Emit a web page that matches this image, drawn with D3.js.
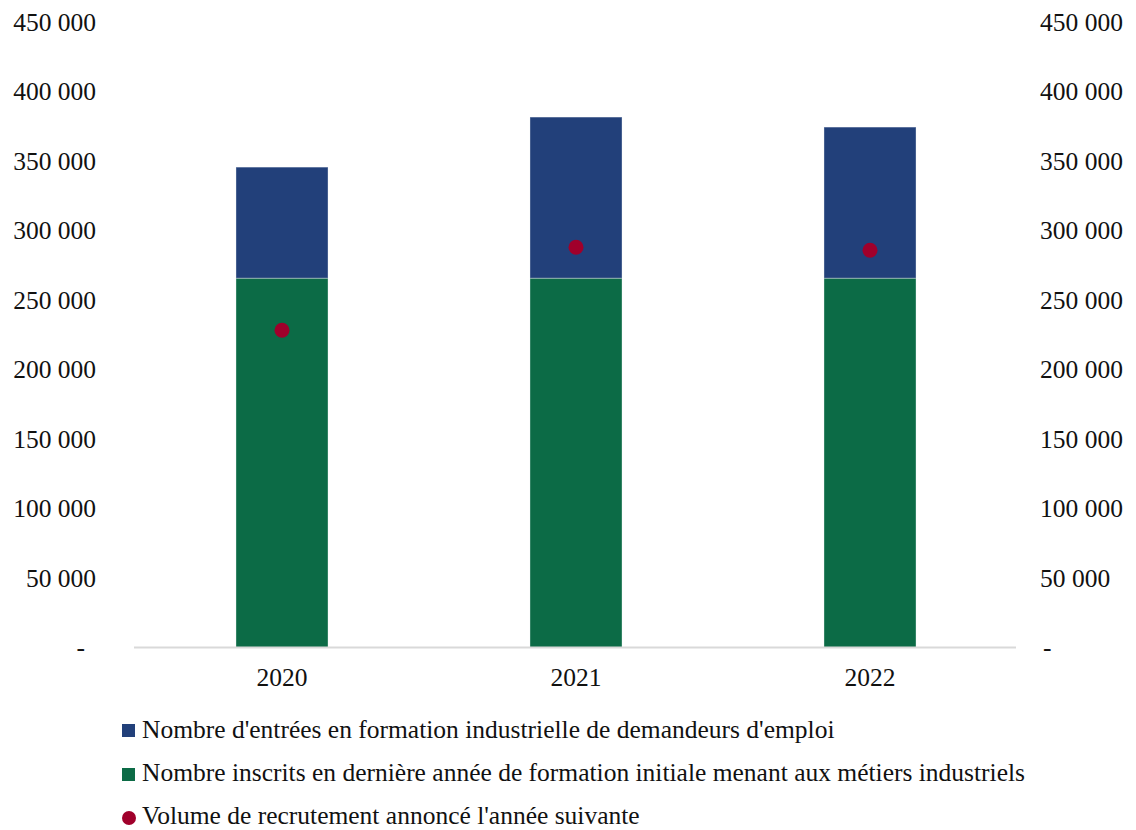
<!DOCTYPE html>
<html><head><meta charset="utf-8">
<script src="https://cdn.jsdelivr.net/npm/d3@7"></script>
<style>body{margin:0;background:#fff}svg{display:block}text{font-family:"Liberation Serif",serif;fill:#111}</style>
</head><body>
<svg id="c" width="1136" height="830"></svg>
<script>
const years = ["2020","2021","2022"];
const inscrits = [265700, 265700, 265700];
const entrees = [79900, 115900, 108700];
const recrutement = [228200, 288000, 285800];
const yTicks = [0,50000,100000,150000,200000,250000,300000,350000,400000,450000];
const legendLabels = [
  "Nombre d'entrées en formation industrielle de demandeurs d'emploi",
  "Nombre inscrits en dernière année de formation initiale menant aux métiers industriels",
  "Volume de recrutement annoncé l'année suivante"
];
const colors = {entrees:"#22407a", inscrits:"#0c6b46", recrut:"#a0002b"};
const FS = "25.5px";

const svg = d3.select("#c");
const x = d3.scaleBand().domain(years).range([135,1017]).paddingInner(0.687).paddingOuter(0.3435);
const y = d3.scaleLinear().domain([0,450000]).range([647.5,22]);
const fmt = v => v===0 ? "-" : d3.format(",")(v).replace(/,/g," ");

// left axis
const gl = svg.append("g").attr("transform","translate(96,0)")
  .call(d3.axisLeft(y).tickValues(yTicks).tickFormat(fmt).tickSize(0).tickPadding(0));
gl.select(".domain").remove();
gl.selectAll("text").style("font-size",FS).attr("dy","0.32em").attr("font-family","Liberation Serif")
  .attr("x", d => d===0 ? -11 : 0);
// right axis
const gr = svg.append("g").attr("transform","translate(1040,0)")
  .call(d3.axisRight(y).tickValues(yTicks).tickFormat(fmt).tickSize(0).tickPadding(0));
gr.select(".domain").remove();
gr.selectAll("text").style("font-size",FS).attr("dy","0.32em").attr("font-family","Liberation Serif")
  .attr("x", d => d===0 ? 3 : 0);

// bars
const data = years.map((yr,i)=>({yr, a:inscrits[i], b:entrees[i], r:recrutement[i]}));
svg.append("g").selectAll("rect.g").data(data).join("rect")
  .attr("x",d=>x(d.yr)).attr("width",x.bandwidth())
  .attr("y",d=>y(d.a)).attr("height",d=>y(0)-y(d.a))
  .attr("fill",colors.inscrits).attr("stroke","rgba(255,255,255,0.35)").attr("stroke-width",1);
svg.append("g").selectAll("rect.b").data(data).join("rect")
  .attr("x",d=>x(d.yr)).attr("width",x.bandwidth())
  .attr("y",d=>y(d.a+d.b)).attr("height",d=>y(d.a)-y(d.a+d.b))
  .attr("fill",colors.entrees).attr("stroke","rgba(255,255,255,0.35)").attr("stroke-width",1);

// baseline / x axis
const gx = svg.append("g").attr("transform",`translate(0,${y(0)})`)
  .call(d3.axisBottom(x).tickSize(0).tickPadding(0));
gx.select(".domain").attr("stroke","#d9d9d9").attr("stroke-width",2).attr("d","M134,0H1016");
gx.selectAll("text").style("font-size",FS).attr("font-family","Liberation Serif").attr("dy","1.5em");

// dots
svg.append("g").selectAll("circle").data(data).join("circle")
  .attr("cx",d=>x(d.yr)+x.bandwidth()/2).attr("cy",d=>y(d.r)).attr("r",7.5)
  .attr("fill",colors.recrut);

// legend
const lg = svg.append("g");
const rows = [738, 781, 824];
lg.append("rect").attr("x",122).attr("y",724).attr("width",13).attr("height",13).attr("fill",colors.entrees);
lg.append("rect").attr("x",122).attr("y",768).attr("width",13).attr("height",13).attr("fill",colors.inscrits);
lg.append("circle").attr("cx",129).attr("cy",818).attr("r",7).attr("fill",colors.recrut);
legendLabels.forEach((t,i)=>{
  lg.append("text").attr("x",142).attr("y",rows[i]).style("font-size",FS).text(t);
});
</script>
</body></html>
